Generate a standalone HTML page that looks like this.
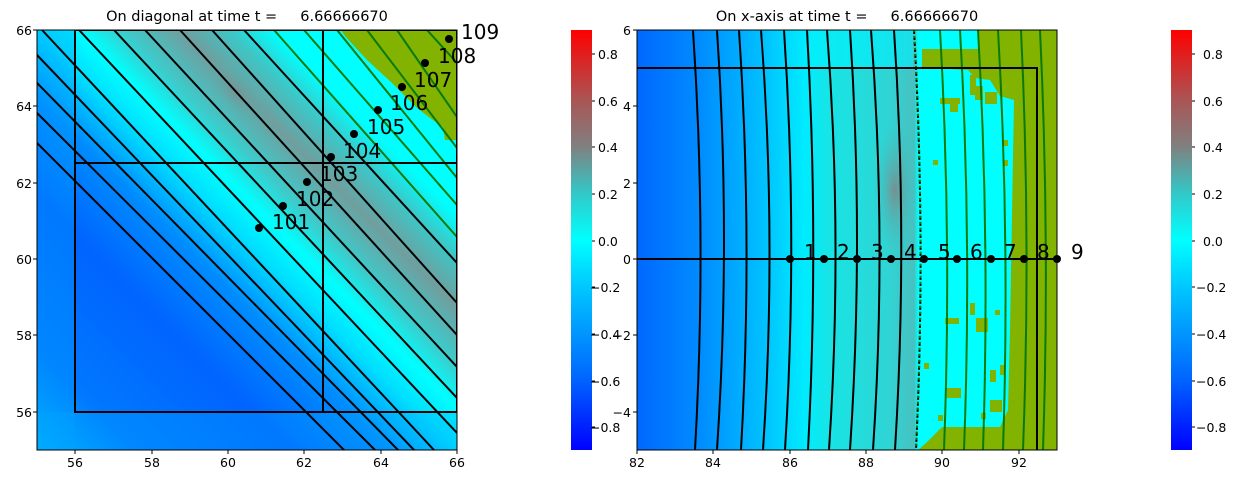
<!DOCTYPE html>
<html><head><meta charset="utf-8"><style>
html,body{margin:0;padding:0;background:#fff;}
svg{display:block;}
text{font-family:"DejaVu Sans","Liberation Sans",sans-serif;fill:#000;}
</style></head><body>
<svg width="1245" height="484" viewBox="0 0 1245 484" xmlns="http://www.w3.org/2000/svg">
<defs>
<linearGradient id="cmap" x1="0" y1="0" x2="0" y2="1">
<stop offset="0" stop-color="#ff0000"/>
<stop offset="0.167" stop-color="#aa5555"/>
<stop offset="0.278" stop-color="#808080"/>
<stop offset="0.389" stop-color="#33c8c8"/>
<stop offset="0.5" stop-color="#00ffff"/>
<stop offset="0.611" stop-color="#00c8ff"/>
<stop offset="0.722" stop-color="#0096ff"/>
<stop offset="0.833" stop-color="#0064ff"/>
<stop offset="1" stop-color="#0000ff"/>
</linearGradient>
<linearGradient id="diag" gradientUnits="userSpaceOnUse" x1="37" y1="450" x2="457" y2="30">
<stop offset="0" stop-color="#00b4ff"/>
<stop offset="0.12" stop-color="#0078ff"/>
<stop offset="0.3" stop-color="#0064ff"/>
<stop offset="0.42" stop-color="#008cff"/>
<stop offset="0.5" stop-color="#00e0ff"/>
<stop offset="0.55" stop-color="#00ffff"/>
<stop offset="0.6" stop-color="#3ccccc"/>
<stop offset="0.67" stop-color="#709e9e"/>
<stop offset="0.73" stop-color="#3cc8c8"/>
<stop offset="0.78" stop-color="#00ffff"/>
<stop offset="1" stop-color="#00ffff"/>
</linearGradient>
<linearGradient id="horiz" gradientUnits="userSpaceOnUse" x1="637" y1="0" x2="1057" y2="0">
<stop offset="0" stop-color="#0068ff"/>
<stop offset="0.15" stop-color="#008cff"/>
<stop offset="0.3" stop-color="#00c0ff"/>
<stop offset="0.4" stop-color="#00ecff"/>
<stop offset="0.46" stop-color="#18e4e4"/>
<stop offset="0.6" stop-color="#30d4d4"/>
<stop offset="0.66" stop-color="#48c0c0"/>
<stop offset="0.67" stop-color="#00ffff"/>
<stop offset="1" stop-color="#00ffff"/>
</linearGradient>
<radialGradient id="blob">
<stop offset="0" stop-color="#808888" stop-opacity="0.9"/>
<stop offset="1" stop-color="#40c0c0" stop-opacity="0"/>
</radialGradient>
<clipPath id="c1"><rect x="37" y="30" width="420" height="420"/></clipPath>
<clipPath id="c2"><rect x="637" y="30" width="420" height="420"/></clipPath>
</defs>

<!-- LEFT PLOT -->
<text x="247" y="21" font-size="14.5" text-anchor="middle" xml:space="preserve">On diagonal at time t =     6.66666670</text>
<g clip-path="url(#c1)">
<rect x="37" y="30" width="420" height="420" fill="url(#diag)"/>
<rect x="37" y="30" width="38" height="420" fill="#00a0ff" opacity="0.35"/>
<rect x="37" y="412" width="420" height="38" fill="#00a8ff" opacity="0.3"/>
<ellipse cx="236" cy="93" rx="40" ry="20" transform="rotate(45 236 93)" fill="url(#blob)" opacity="0.6"/>
<polygon points="341,30 457,30 457,140 445,140 443,127 430,118 416,107 404,95 392,83 380,72 367,60 355,47 345,36" fill="#82b300"/>
<g stroke="#000" stroke-width="2" fill="none">
<line x1="37" y1="143" x2="344" y2="450"/>
<line x1="37" y1="113" x2="375" y2="450"/>
<line x1="37" y1="83" x2="398" y2="450"/>
<line x1="37" y1="55" x2="414" y2="450"/>
<line x1="42" y1="30" x2="434" y2="450"/>
<line x1="79" y1="30" x2="457" y2="433"/>
<line x1="114" y1="30" x2="457" y2="398"/>
<line x1="145" y1="30" x2="457" y2="367"/>
<line x1="180" y1="30" x2="457" y2="335"/>
<line x1="212" y1="30" x2="457" y2="303"/>
<line x1="244" y1="30" x2="457" y2="263"/>
</g>
<g stroke="#0a7a0a" stroke-width="2" fill="none">
<line x1="274" y1="30" x2="457" y2="237"/>
<line x1="304" y1="30" x2="457" y2="205"/>
<line x1="337" y1="30" x2="457" y2="178"/>
<line x1="367" y1="30" x2="457" y2="148"/>
<line x1="397" y1="30" x2="457" y2="117"/>
<line x1="427" y1="30" x2="457" y2="63"/>
</g>
<g stroke="#000" stroke-width="2" fill="none">
<rect x="75" y="30" width="382" height="382"/>
<line x1="323" y1="30" x2="323" y2="412"/>
<line x1="75" y1="163" x2="457" y2="163"/>
</g>
<g fill="#000">
<circle cx="259" cy="228" r="4"/><circle cx="283" cy="206" r="4"/><circle cx="307" cy="182" r="4"/>
<circle cx="331" cy="157" r="4"/><circle cx="354" cy="134" r="4"/><circle cx="378" cy="110" r="4"/>
<circle cx="402" cy="87" r="4"/><circle cx="425" cy="63" r="4"/><circle cx="449" cy="39" r="4"/>
</g>
</g>
<rect x="37" y="30" width="420" height="420" fill="none" stroke="#000" stroke-width="1"/>
<g font-size="20">
<text x="272" y="229">101</text><text x="296" y="206">102</text><text x="320" y="181">103</text>
<text x="343" y="158">104</text><text x="367" y="134">105</text><text x="390" y="110">106</text>
<text x="414" y="87">107</text><text x="438" y="63">108</text><text x="461" y="39">109</text>
</g>
<g font-size="12.5" text-anchor="end">
<text x="32" y="35">66</text><text x="32" y="111">64</text><text x="32" y="188">62</text>
<text x="32" y="264">60</text><text x="32" y="340">58</text><text x="32" y="417">56</text>
</g>
<g font-size="12.5" text-anchor="middle">
<text x="75" y="467">56</text><text x="152" y="467">58</text><text x="228" y="467">60</text>
<text x="304" y="467">62</text><text x="381" y="467">64</text><text x="457" y="467">66</text>
</g>
<g stroke="#000" stroke-width="1">
<line x1="33" y1="30" x2="37" y2="30"/><line x1="33" y1="106" x2="37" y2="106"/><line x1="33" y1="183" x2="37" y2="183"/>
<line x1="33" y1="259" x2="37" y2="259"/><line x1="33" y1="335" x2="37" y2="335"/><line x1="33" y1="412" x2="37" y2="412"/>
<line x1="75" y1="450" x2="75" y2="454"/><line x1="152" y1="450" x2="152" y2="454"/><line x1="228" y1="450" x2="228" y2="454"/>
<line x1="304" y1="450" x2="304" y2="454"/><line x1="381" y1="450" x2="381" y2="454"/><line x1="457" y1="450" x2="457" y2="454"/>
</g>

<!-- COLORBAR 1 -->
<rect x="571" y="30" width="21" height="420" fill="url(#cmap)"/>
<g font-size="12.5">
<text x="598" y="59">0.8</text><text x="598" y="106">0.6</text><text x="598" y="152">0.4</text>
<text x="598" y="199">0.2</text><text x="598" y="246">0.0</text><text x="590" y="292">−0.2</text>
<text x="590" y="339">−0.4</text><text x="590" y="386">−0.6</text><text x="590" y="432">−0.8</text>
</g>
<g stroke="#000"><line x1="592" y1="54" x2="595" y2="54"/><line x1="592" y1="101" x2="595" y2="101"/><line x1="592" y1="147" x2="595" y2="147"/><line x1="592" y1="194" x2="595" y2="194"/><line x1="592" y1="241" x2="595" y2="241"/><line x1="592" y1="287" x2="595" y2="287"/><line x1="592" y1="334" x2="595" y2="334"/><line x1="592" y1="381" x2="595" y2="381"/><line x1="592" y1="427" x2="595" y2="427"/></g>

<!-- RIGHT PLOT -->
<text x="847" y="21" font-size="14.5" text-anchor="middle" xml:space="preserve">On x-axis at time t =     6.66666670</text>
<g clip-path="url(#c2)">
<rect x="637" y="30" width="420" height="420" fill="url(#horiz)"/>
<rect x="810" y="30" width="103" height="40" fill="#00f0ff" opacity="0.6"/>
<ellipse cx="895" cy="190" rx="22" ry="70" fill="url(#blob)"/>
<polygon points="922,49 979,49 979,30 1057,30 1057,450 918,450 926,443 933,436 942,427 1000,427 1008,410 1010,330 1014,100 1000,96 990,80 975,78 968,70 930,68 922,68" fill="#82b300"/>
<g fill="#82b300">
<rect x="940" y="98" width="20" height="6"/><rect x="950" y="98" width="8" height="14"/><rect x="975" y="86" width="8" height="14"/><rect x="985" y="92" width="12" height="12"/><rect x="970" y="75" width="6" height="20"/>
<rect x="933" y="160" width="5" height="5"/><rect x="1003" y="140" width="5" height="6"/><rect x="1003" y="160" width="5" height="6"/>
<rect x="945" y="318" width="14" height="6"/><rect x="976" y="318" width="12" height="14"/><rect x="970" y="303" width="5" height="12"/><rect x="995" y="310" width="5" height="5"/>
<rect x="924" y="363" width="5" height="6"/><rect x="990" y="370" width="6" height="12"/><rect x="1000" y="365" width="5" height="10"/>
<rect x="947" y="388" width="14" height="10"/><rect x="990" y="400" width="12" height="12"/><rect x="938" y="415" width="5" height="6"/><rect x="981" y="413" width="5" height="6"/>
</g>
<g stroke="#000" stroke-width="2" fill="none">
<path d="M693,30 Q707,240 695,450"/><path d="M717,30 Q731,240 717,450"/><path d="M739,30 Q753,240 741,450"/>
<path d="M761,30 Q777,240 763,450"/><path d="M784,30 Q798,240 785,450"/><path d="M807,30 Q819,240 808,450"/>
<path d="M827,30 Q843,240 829,450"/><path d="M850,30 Q864,240 850,450"/><path d="M871,30 Q887,240 873,450"/>
<path d="M894,30 Q908,240 895,450"/>
</g>
<path d="M914,30 Q926,240 916,450" stroke="#000" stroke-width="2" fill="none" stroke-dasharray="4,2"/>
<path d="M914,30 Q926,240 916,450" stroke="#0a7a0a" stroke-width="2" fill="none" stroke-dasharray="2,4"/>
<g stroke="#0a7a0a" stroke-width="2" fill="none">
<path d="M940,30 Q952,240 944,450"/><path d="M960,30 Q972,240 964,450"/><path d="M978,30 Q990,240 983,450"/>
<path d="M998,30 Q1010,240 1003,450"/><path d="M1021,30 Q1031,240 1023,450"/><path d="M1040,30 Q1050,240 1043,450"/>
</g>
<g stroke="#000" stroke-width="2" fill="none">
<polyline points="637,68 1037,68 1037,450"/>
<line x1="637" y1="259" x2="1057" y2="259"/>
</g>
</g>
<g fill="#000">
<circle cx="790" cy="259" r="4"/><circle cx="824" cy="259" r="4"/><circle cx="857" cy="259" r="4"/>
<circle cx="891" cy="259" r="4"/><circle cx="924" cy="259" r="4"/><circle cx="957" cy="259" r="4"/>
<circle cx="991" cy="259" r="4"/><circle cx="1024" cy="259" r="4"/><circle cx="1057" cy="259" r="4"/>
</g>
<rect x="637" y="30" width="420" height="420" fill="none" stroke="#000" stroke-width="1"/>
<g font-size="20">
<text x="804" y="259">1</text><text x="837" y="259">2</text><text x="871" y="259">3</text>
<text x="904" y="259">4</text><text x="938" y="259">5</text><text x="970" y="259">6</text>
<text x="1004" y="259">7</text><text x="1037" y="259">8</text><text x="1071" y="259">9</text>
</g>
<g font-size="12.5" text-anchor="end">
<text x="631" y="35">6</text><text x="631" y="111">4</text><text x="631" y="188">2</text>
<text x="631" y="264">0</text><text x="631" y="340">−2</text><text x="631" y="417">−4</text>
</g>
<g font-size="12.5" text-anchor="middle">
<text x="637" y="467">82</text><text x="713" y="467">84</text><text x="790" y="467">86</text>
<text x="866" y="467">88</text><text x="942" y="467">90</text><text x="1019" y="467">92</text>
</g>
<g stroke="#000" stroke-width="1">
<line x1="633" y1="30" x2="637" y2="30"/><line x1="633" y1="106" x2="637" y2="106"/><line x1="633" y1="183" x2="637" y2="183"/>
<line x1="633" y1="259" x2="637" y2="259"/><line x1="633" y1="335" x2="637" y2="335"/><line x1="633" y1="412" x2="637" y2="412"/>
<line x1="637" y1="450" x2="637" y2="454"/><line x1="713" y1="450" x2="713" y2="454"/><line x1="790" y1="450" x2="790" y2="454"/>
<line x1="866" y1="450" x2="866" y2="454"/><line x1="942" y1="450" x2="942" y2="454"/><line x1="1019" y1="450" x2="1019" y2="454"/>
</g>

<!-- COLORBAR 2 -->
<rect x="1171" y="30" width="21" height="420" fill="url(#cmap)"/>
<g font-size="12.5">
<text x="1203" y="59">0.8</text><text x="1203" y="106">0.6</text><text x="1203" y="152">0.4</text>
<text x="1203" y="199">0.2</text><text x="1203" y="246">0.0</text><text x="1196" y="292">−0.2</text>
<text x="1196" y="339">−0.4</text><text x="1196" y="386">−0.6</text><text x="1196" y="432">−0.8</text>
</g>
<g stroke="#000"><line x1="1192" y1="54" x2="1195" y2="54"/><line x1="1192" y1="101" x2="1195" y2="101"/><line x1="1192" y1="147" x2="1195" y2="147"/><line x1="1192" y1="194" x2="1195" y2="194"/><line x1="1192" y1="241" x2="1195" y2="241"/><line x1="1192" y1="287" x2="1195" y2="287"/><line x1="1192" y1="334" x2="1195" y2="334"/><line x1="1192" y1="381" x2="1195" y2="381"/><line x1="1192" y1="427" x2="1195" y2="427"/></g>
</svg>
</body></html>
